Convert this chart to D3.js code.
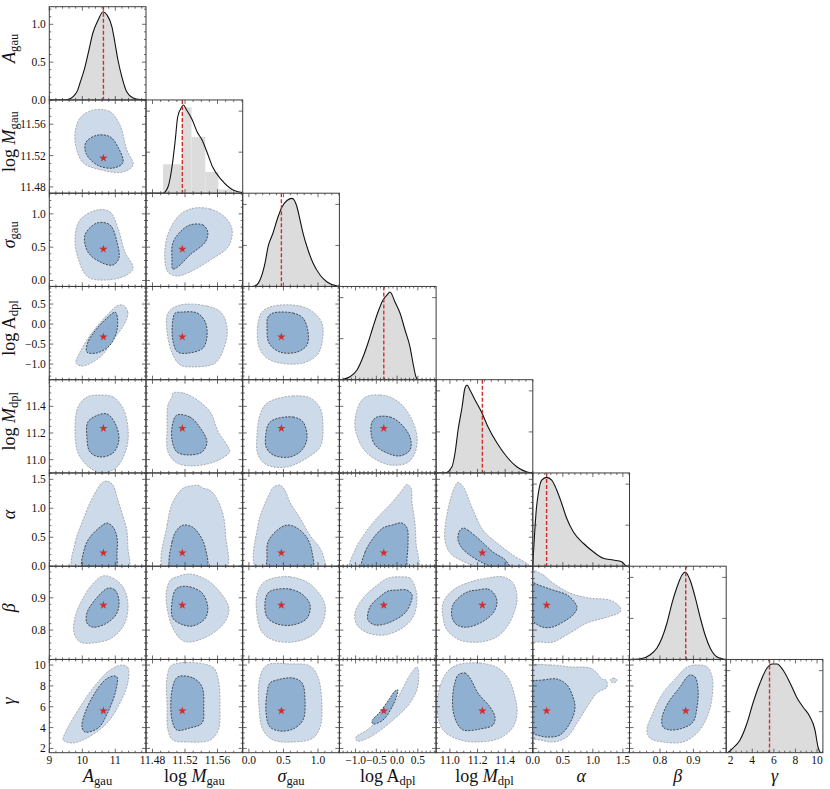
<!DOCTYPE html>
<html>
<head>
<meta charset="utf-8">
<script src="https://cdn.jsdelivr.net/npm/d3@7"></script>
<style>
  body { margin: 0; background: #fff; }
  svg { display: block; }
  svg text { font-family: "Liberation Serif", "DejaVu Serif", serif; fill: #111; }
</style>
</head>
<body>
<div id="chart"></div>
<script>
const width = 830, height = 789;
const gridLeft = 49.3, gridTop = 6.7, cellW = 96.7, cellH = 93.25;

// parameters, axis ranges, ticks, best fit
const params = ["A", "Mg", "sg", "Ad", "Md", "al", "be", "ga"];
const domains = [[9, 11.93], [11.472, 11.591], [-0.09, 1.31], [-1.39, 0.94], [10.9, 11.6], [0, 1.61], [0.709, 0.998], [1.59, 10.54]];
const majorTicks = [[9, 10, 11], [11.48, 11.52, 11.56], [0, 0.5, 1], [-1, -0.5, 0, 0.5], [11, 11.2, 11.4], [0, 0.5, 1, 1.5], [0.8, 0.9], [2, 4, 6, 8, 10]];
const minorSteps = [0.2, 0.01, 0.1, 0.1, 0.05, 0.1, 0.02, 0.5];
const tickFormats = ["d", ".2f", ".1f", ".1f", ".1f", ".1f", ".1f", "d"];
const bestFit = [10.64, 11.5167, 0.47, -0.32, 11.235, 0.23, 0.877, 5.6];
const axisLabels = [
  [["A", "i"], ["gau", "s"]],
  [["log ", "r"], ["M", "i"], ["gau", "s"]],
  [["σ", "i"], ["gau", "s"]],
  [["log A", "r"], ["dpl", "s"]],
  [["log ", "r"], ["M", "i"], ["dpl", "s"]],
  [["α", "i"]],
  [["β", "i"]],
  [["γ", "i"]]
];

// 1D marginals (first one in density units, the others scaled to panel height)
const A_grid = [9.0, 9.4, 9.6, 9.72, 9.85, 9.93, 10.08, 10.2, 10.32, 10.48, 10.63, 10.75, 10.9, 10.99, 11.08, 11.2, 11.35, 11.54, 11.75, 11.93];
const A_dens = [0, 0, 0.01, 0.043, 0.12, 0.224, 0.435, 0.66, 0.885, 1.057, 1.166, 1.123, 0.964, 0.753, 0.528, 0.303, 0.105, 0.026, 0.004, 0];
const Mg_grid = [11.472, 11.493, 11.499, 11.504, 11.508, 11.511, 11.516, 11.518, 11.522, 11.529, 11.535, 11.541, 11.547, 11.554, 11.565, 11.579, 11.591];
const Mg_dens = [0, 0, 0.066, 0.281, 0.57, 0.817, 0.924, 0.946, 0.892, 0.785, 0.656, 0.57, 0.442, 0.281, 0.142, 0.034, 0.005];
const Mg_histEdges = [11.493, 11.516, 11.528, 11.545, 11.561, 11.578];
const Mg_histHeights = [0.31, 0.92, 0.603, 0.227, 0.04];
const sg_grid = [-0.09, 0.05, 0.088, 0.16, 0.233, 0.276, 0.349, 0.421, 0.479, 0.551, 0.624, 0.696, 0.74, 0.783, 0.856, 0.928, 1.03, 1.131, 1.276, 1.31];
const sg_dens = [0, 0, 0.005, 0.069, 0.251, 0.423, 0.573, 0.745, 0.852, 0.922, 0.944, 0.852, 0.713, 0.573, 0.391, 0.251, 0.123, 0.048, 0.005, 0];
const Ad_grid = [-1.39, -1.3, -1.135, -0.966, -0.821, -0.701, -0.58, -0.46, -0.339, -0.243, -0.17, -0.05, 0.07, 0.191, 0.311, 0.383, 0.456, 0.504, 0.94];
const Ad_dens = [0, 0.005, 0.032, 0.104, 0.243, 0.394, 0.565, 0.726, 0.855, 0.908, 0.94, 0.833, 0.715, 0.533, 0.351, 0.179, 0.029, 0, 0];
const Md_grid = [10.9, 10.964, 11.015, 11.037, 11.059, 11.088, 11.109, 11.124, 11.145, 11.182, 11.232, 11.276, 11.341, 11.413, 11.486, 11.558, 11.6];
const Md_dens = [0, 0, 0.067, 0.214, 0.461, 0.707, 0.911, 0.943, 0.89, 0.782, 0.643, 0.493, 0.321, 0.171, 0.064, 0.01, 0];
const al_grid = [0, 0.03, 0.06, 0.092, 0.148, 0.231, 0.315, 0.398, 0.481, 0.564, 0.674, 0.841, 1.007, 1.174, 1.34, 1.48, 1.563, 1.61];
const al_dens = [0.02, 0.35, 0.62, 0.782, 0.924, 0.953, 0.924, 0.817, 0.673, 0.514, 0.37, 0.246, 0.155, 0.085, 0.066, 0.048, 0, 0];
const be_grid = [0.709, 0.74, 0.77, 0.791, 0.806, 0.821, 0.836, 0.851, 0.866, 0.875, 0.89, 0.905, 0.92, 0.935, 0.95, 0.971, 0.989, 0.998];
const be_dens = [0, 0.005, 0.048, 0.123, 0.23, 0.391, 0.605, 0.777, 0.906, 0.938, 0.852, 0.67, 0.455, 0.262, 0.123, 0.026, 0.005, 0];
const ga_grid = [1.59, 1.64, 2.22, 2.87, 3.52, 4.07, 4.72, 5.37, 5.83, 6.29, 6.85, 7.5, 8.15, 8.7, 9.35, 9.81, 10.09, 10.37, 10.54];
const ga_dens = [0, 0, 0.05, 0.136, 0.318, 0.533, 0.748, 0.908, 0.951, 0.951, 0.887, 0.748, 0.587, 0.49, 0.383, 0.243, 0.061, 0, 0];
const diagGrids = [A_grid, Mg_grid, sg_grid, Ad_grid, Md_grid, al_grid, be_grid, ga_grid];
const diagDens = [A_dens, Mg_dens, sg_dens, Ad_dens, Md_dens, al_dens, be_dens, ga_dens];
const diagTicks = [0.44, 0.88];

// 2D credible regions, [x, y] in data units (outer = 95%, inner = 68%)
const Mg_A_outer = [[10.32,11.578],[10.84,11.576],[11.14,11.559],[11.35,11.527],[11.54,11.508],[11.23,11.499],[10.54,11.502],[10.02,11.511],[9.81,11.531],[9.78,11.549],[9.93,11.568]];
const Mg_A_inner = [[10.45,11.546],[10.84,11.544],[11.08,11.531],[11.23,11.511],[10.93,11.504],[10.45,11.508],[10.11,11.523],[10.11,11.537]];
const sg_A_outer = [[10.45,1.058],[10.84,1.028],[11.08,0.788],[11.29,0.427],[11.54,0.187],[11.35,0.082],[10.75,0.007],[10.17,0.052],[9.87,0.337],[9.78,0.637],[9.93,0.908]];
const sg_A_inner = [[10.45,0.863],[10.84,0.833],[11.05,0.577],[11.11,0.337],[10.93,0.232],[10.54,0.277],[10.17,0.427],[10.08,0.683]];
const Ad_A_outer = [[11.23,0.476],[11.38,0.30],[11.29,0.026],[10.93,-0.399],[10.54,-0.824],[9.99,-1.05],[9.81,-0.97],[9.93,-0.70],[10.29,-0.22],[10.75,0.226],[11.05,0.45]];
const Ad_A_inner = [[10.99,0.30],[11.05,0.226],[11.05,-0.15],[10.84,-0.524],[10.45,-0.72],[10.14,-0.70],[10.17,-0.45],[10.48,-0.074],[10.78,0.176]];
const Md_A_outer = [[10.54,11.485],[10.93,11.47],[11.23,11.388],[11.38,11.245],[11.35,11.095],[11.05,10.945],[10.63,10.90],[10.23,10.938],[9.87,11.05],[9.78,11.223],[9.87,11.395],[10.14,11.47]];
const Md_A_inner = [[10.48,11.335],[10.75,11.343],[10.99,11.275],[11.11,11.148],[10.93,11.05],[10.54,11.02],[10.23,11.058],[10.14,11.17],[10.17,11.283]];
const al_A_outer = [[9.72,-0.07],[9.78,0.40],[10.02,0.797],[10.32,1.195],[10.60,1.44],[10.75,1.47],[10.93,1.40],[11.05,1.195],[11.20,0.92],[11.35,0.62],[11.38,0.33],[11.38,-0.07]];
const al_A_inner = [[10.02,-0.07],[10.08,0.33],[10.23,0.50],[10.54,0.676],[10.75,0.745],[10.93,0.676],[11.05,0.50],[11.05,0.225],[10.99,-0.07]];
const be_A_outer = [[10.63,0.968],[10.93,0.961],[11.23,0.934],[11.38,0.884],[11.29,0.822],[10.90,0.776],[10.32,0.760],[9.93,0.763],[9.75,0.791],[9.78,0.84],[9.99,0.893],[10.29,0.94]];
const be_A_inner = [[10.78,0.93],[10.99,0.924],[11.11,0.893],[11.05,0.853],[10.75,0.822],[10.32,0.809],[10.14,0.822],[10.14,0.853],[10.38,0.893]];
const ga_A_outer = [[11.20,10.01],[11.38,9.76],[11.38,8.3],[11.14,6.36],[10.75,4.44],[10.14,3.0],[9.69,2.52],[9.42,2.81],[9.48,3.48],[9.93,5.98],[10.45,8.28],[10.84,9.53]];
const ga_A_inner = [[10.93,8.95],[11.05,8.86],[11.02,7.61],[10.78,5.5],[10.48,3.96],[10.08,3.58],[9.99,4.06],[10.08,5.4],[10.38,7.32],[10.69,8.57]];
const sg_Mg_outer = [[11.532,1.088],[11.551,1.073],[11.569,0.953],[11.578,0.758],[11.573,0.502],[11.551,0.307],[11.526,0.127],[11.510,0.067],[11.499,0.127],[11.495,0.352],[11.498,0.653],[11.508,0.908],[11.518,1.028]];
const sg_Mg_inner = [[11.526,0.833],[11.542,0.833],[11.548,0.728],[11.545,0.577],[11.526,0.382],[11.511,0.202],[11.505,0.172],[11.504,0.307],[11.505,0.562],[11.514,0.728]];
const Ad_Mg_outer = [[11.514,0.476],[11.547,0.45],[11.565,0.276],[11.572,-0.15],[11.567,-0.65],[11.557,-0.976],[11.530,-1.07],[11.514,-1.02],[11.504,-0.72],[11.498,-0.20],[11.499,0.276]];
const Ad_Mg_inner = [[11.516,0.30],[11.535,0.276],[11.545,0.05],[11.547,-0.324],[11.542,-0.60],[11.526,-0.72],[11.511,-0.70],[11.505,-0.40],[11.505,0.10],[11.508,0.276]];
const Md_Mg_outer = [[11.505,11.50],[11.518,11.50],[11.535,11.448],[11.551,11.358],[11.561,11.208],[11.573,11.095],[11.575,11.058],[11.559,10.99],[11.530,10.953],[11.510,10.975],[11.499,11.058],[11.498,11.238],[11.499,11.41],[11.504,11.47]];
const Md_Mg_inner = [[11.510,11.335],[11.526,11.32],[11.538,11.245],[11.547,11.133],[11.541,11.058],[11.524,11.035],[11.510,11.058],[11.504,11.148],[11.505,11.275]];
const al_Mg_outer = [[11.494,-0.07],[11.498,0.71],[11.505,1.108],[11.518,1.35],[11.530,1.39],[11.536,1.40],[11.542,1.35],[11.551,1.31],[11.559,1.17],[11.567,0.88],[11.570,0.53],[11.570,-0.07]];
const al_Mg_inner = [[11.503,-0.07],[11.504,0.417],[11.510,0.625],[11.518,0.71],[11.529,0.676],[11.538,0.54],[11.545,0.314],[11.546,-0.07]];
const be_Mg_outer = [[11.510,0.965],[11.526,0.974],[11.547,0.955],[11.563,0.918],[11.574,0.868],[11.569,0.825],[11.551,0.785],[11.526,0.763],[11.516,0.769],[11.505,0.806],[11.498,0.868],[11.497,0.918],[11.502,0.955]];
const be_Mg_inner = [[11.514,0.934],[11.526,0.934],[11.541,0.915],[11.548,0.872],[11.545,0.837],[11.530,0.813],[11.518,0.816],[11.505,0.837],[11.504,0.887],[11.508,0.924]];
const ga_Mg_outer = [[11.504,10.01],[11.554,9.82],[11.561,8.57],[11.563,5.98],[11.561,3.77],[11.551,2.81],[11.522,2.62],[11.505,2.81],[11.499,3.77],[11.498,5.98],[11.498,8.86]];
const ga_Mg_inner = [[11.511,8.86],[11.530,8.76],[11.541,7.9],[11.543,5.98],[11.541,4.44],[11.526,3.96],[11.510,3.77],[11.504,4.73],[11.504,7.61]];
const Ad_sg_outer = [[0.349,0.45],[0.74,0.45],[0.928,0.30],[1.058,0.026],[1.058,-0.474],[0.986,-0.774],[0.783,-0.974],[0.45,-0.974],[0.262,-0.85],[0.146,-0.574],[0.132,0.026],[0.19,0.30]];
const Ad_sg_inner = [[0.349,0.276],[0.638,0.276],[0.783,0.15],[0.856,-0.20],[0.841,-0.524],[0.696,-0.70],[0.45,-0.70],[0.291,-0.474],[0.262,-0.074],[0.276,0.176]];
const Md_sg_outer = [[0.349,11.448],[0.638,11.478],[0.885,11.463],[1.03,11.388],[1.073,11.238],[1.03,11.095],[0.841,11.013],[0.552,10.945],[0.262,10.96],[0.132,11.035],[0.117,11.185],[0.16,11.335],[0.233,11.41]];
const Md_sg_inner = [[0.349,11.298],[0.638,11.32],[0.783,11.283],[0.841,11.163],[0.769,11.073],[0.595,11.02],[0.349,11.035],[0.248,11.095],[0.248,11.2],[0.276,11.26]];
const al_sg_outer = [[0.117,-0.07],[0.132,0.71],[0.204,1.0],[0.305,1.27],[0.349,1.36],[0.45,1.40],[0.522,1.31],[0.595,1.10],[0.74,0.83],[0.885,0.53],[1.03,0.31],[1.102,0.07],[1.116,-0.07]];
const al_sg_inner = [[0.276,-0.07],[0.262,0.15],[0.276,0.417],[0.407,0.62],[0.552,0.71],[0.696,0.66],[0.841,0.49],[0.913,0.246],[0.913,-0.07]];
const be_sg_outer = [[0.349,0.961],[0.595,0.965],[0.841,0.949],[1.0,0.918],[1.102,0.878],[1.073,0.825],[0.928,0.785],[0.638,0.763],[0.349,0.769],[0.19,0.794],[0.117,0.847],[0.117,0.909],[0.204,0.946]];
const be_sg_inner = [[0.349,0.924],[0.595,0.927],[0.783,0.909],[0.885,0.878],[0.841,0.837],[0.638,0.816],[0.407,0.819],[0.262,0.84],[0.233,0.887],[0.276,0.915]];
const ga_sg_outer = [[0.262,10.01],[0.595,10.11],[0.885,9.92],[1.0,8.86],[1.058,5.98],[1.03,4.06],[0.928,3.0],[0.638,2.62],[0.349,2.81],[0.204,3.77],[0.146,5.98],[0.16,8.86]];
const ga_sg_inner = [[0.407,8.57],[0.638,8.76],[0.769,8.28],[0.812,6.65],[0.783,4.73],[0.638,3.86],[0.45,3.67],[0.305,4.06],[0.248,5.4],[0.262,7.32],[0.305,8.28]];
const Md_Ad_outer = [[-0.701,11.478],[-0.412,11.485],[-0.17,11.47],[0.119,11.41],[0.36,11.298],[0.48,11.17],[0.431,11.05],[0.239,10.975],[-0.17,10.96],[-0.58,11.013],[-0.845,11.095],[-1.014,11.245],[-0.966,11.373],[-0.845,11.448]];
const Md_Ad_inner = [[-0.484,11.32],[-0.17,11.32],[0.07,11.275],[0.311,11.17],[0.311,11.073],[0.07,11.028],[-0.243,11.05],[-0.532,11.11],[-0.628,11.2],[-0.604,11.283]];
const al_Ad_outer = [[-1.135,-0.07],[-1.014,0.28],[-0.773,0.57],[-0.46,0.85],[-0.122,1.10],[0.119,1.31],[0.239,1.41],[0.335,1.35],[0.36,1.09],[0.431,0.74],[0.456,0.40],[0.48,-0.07]];
const al_Ad_inner = [[-0.845,-0.07],[-0.773,0.24],[-0.58,0.48],[-0.339,0.66],[-0.122,0.71],[0.119,0.745],[0.239,0.66],[0.263,0.40],[0.239,0.14],[0.191,-0.07]];
const be_Ad_outer = [[0.119,0.965],[0.311,0.961],[0.431,0.934],[0.48,0.893],[0.383,0.840],[0.119,0.806],[-0.29,0.785],[-0.701,0.791],[-0.966,0.816],[-1.014,0.853],[-0.821,0.899],[-0.532,0.934],[-0.218,0.961]];
const be_Ad_inner = [[-0.002,0.924],[0.239,0.924],[0.36,0.909],[0.335,0.887],[0.191,0.853],[-0.218,0.822],[-0.532,0.816],[-0.701,0.831],[-0.653,0.872],[-0.363,0.909],[-0.218,0.921]];
const ga_Ad_outer = [[-0.966,2.71],[-0.653,3.09],[-0.098,4.73],[0.311,6.36],[0.504,8.03],[0.48,9.82],[0.311,9.05],[-0.098,6.17],[-0.725,3.77],[-0.99,3.09]];
const ga_Ad_inner = [[-0.58,4.35],[-0.339,4.73],[-0.098,6.17],[0.022,7.61],[-0.05,7.52],[-0.17,6.84],[-0.412,5.5],[-0.604,4.63]];
const al_Md_outer = [[11.059,1.45],[11.102,1.35],[11.138,1.14],[11.175,0.93],[11.24,0.62],[11.341,0.40],[11.457,0.19],[11.58,0.0],[11.58,-0.07],[11.399,-0.07],[11.218,-0.02],[11.088,0.09],[11.001,0.23],[10.964,0.45],[10.972,0.80],[11.008,1.19],[11.037,1.38]];
const al_Md_inner = [[11.095,0.66],[11.131,0.62],[11.218,0.45],[11.312,0.245],[11.399,0.11],[11.435,-0.03],[11.341,-0.03],[11.24,0.055],[11.145,0.19],[11.088,0.31],[11.059,0.45],[11.066,0.59]];
const be_Md_outer = [[11.268,0.961],[11.384,0.965],[11.457,0.946],[11.486,0.903],[11.471,0.862],[11.413,0.81],[11.341,0.779],[11.218,0.763],[11.073,0.769],[10.979,0.8],[10.95,0.84],[10.95,0.884],[11.022,0.924],[11.145,0.949]];
const be_Md_inner = [[11.196,0.924],[11.276,0.927],[11.326,0.909],[11.341,0.884],[11.312,0.853],[11.232,0.825],[11.124,0.809],[11.051,0.816],[11.015,0.84],[11.022,0.878],[11.088,0.909],[11.145,0.921]];
const ga_Md_outer = [[11.051,10.01],[11.218,10.2],[11.348,9.72],[11.421,8.76],[11.471,6.94],[11.486,5.4],[11.457,4.06],[11.363,3.0],[11.196,2.62],[11.051,2.91],[10.95,3.77],[10.907,5.69],[10.928,7.9],[10.979,9.34]];
const ga_Md_inner = [[11.059,9.05],[11.109,9.24],[11.145,8.76],[11.203,7.32],[11.29,5.98],[11.326,5.02],[11.312,4.25],[11.218,3.86],[11.095,3.77],[11.051,4.44],[11.022,5.69],[11.022,7.32],[11.037,8.36]];
const be_al_outer = [[-0.07,0.986],[0.17,0.971],[0.336,0.946],[0.619,0.915],[0.952,0.899],[1.285,0.893],[1.452,0.871],[1.452,0.856],[1.235,0.84],[0.902,0.822],[0.619,0.791],[0.336,0.763],[0.12,0.763],[-0.07,0.769],[-0.07,0.87]];
const be_al_inner = [[-0.07,0.949],[0.12,0.938],[0.336,0.924],[0.569,0.909],[0.703,0.884],[0.736,0.868],[0.669,0.847],[0.503,0.825],[0.32,0.809],[0.17,0.809],[0.037,0.822],[-0.07,0.85]];
const ga_al_outer = [[-0.07,9.82],[0.286,10.01],[0.619,9.82],[0.952,9.72],[1.069,9.24],[1.152,8.66],[1.219,8.57],[1.235,7.9],[1.069,7.32],[0.902,5.98],[0.736,4.44],[0.569,3.1],[0.336,2.62],[0.12,2.81],[-0.07,3.1],[-0.07,6.5]];
const ga_al_island = [[1.29,8.6],[1.34,8.75],[1.40,8.6],[1.38,8.35],[1.31,8.35]];
const ga_al_inner = [[-0.07,8.28],[0.17,8.57],[0.403,8.66],[0.569,8.09],[0.669,6.94],[0.703,5.88],[0.619,4.44],[0.453,3.29],[0.236,3.09],[0.07,3.29],[-0.07,3.62],[-0.07,6.0]];
const ga_be_outer = [[0.911,10.01],[0.941,9.82],[0.956,8.86],[0.956,6.94],[0.941,5.02],[0.911,3.48],[0.869,2.62],[0.809,2.62],[0.770,3.0],[0.761,3.77],[0.779,5.4],[0.809,7.32],[0.851,8.86],[0.881,9.82]];
const ga_be_inner = [[0.890,9.05],[0.905,8.86],[0.914,7.61],[0.911,6.0],[0.899,4.54],[0.869,3.96],[0.830,3.77],[0.809,4.06],[0.806,4.92],[0.824,6.36],[0.860,7.9],[0.881,8.86]];

// [row, col, outer regions, inner regions]
const contourPanels = [
  [1, 0, [Mg_A_outer], [Mg_A_inner]],
  [2, 0, [sg_A_outer], [sg_A_inner]],
  [3, 0, [Ad_A_outer], [Ad_A_inner]],
  [4, 0, [Md_A_outer], [Md_A_inner]],
  [5, 0, [al_A_outer], [al_A_inner]],
  [6, 0, [be_A_outer], [be_A_inner]],
  [7, 0, [ga_A_outer], [ga_A_inner]],
  [2, 1, [sg_Mg_outer], [sg_Mg_inner]],
  [3, 1, [Ad_Mg_outer], [Ad_Mg_inner]],
  [4, 1, [Md_Mg_outer], [Md_Mg_inner]],
  [5, 1, [al_Mg_outer], [al_Mg_inner]],
  [6, 1, [be_Mg_outer], [be_Mg_inner]],
  [7, 1, [ga_Mg_outer], [ga_Mg_inner]],
  [3, 2, [Ad_sg_outer], [Ad_sg_inner]],
  [4, 2, [Md_sg_outer], [Md_sg_inner]],
  [5, 2, [al_sg_outer], [al_sg_inner]],
  [6, 2, [be_sg_outer], [be_sg_inner]],
  [7, 2, [ga_sg_outer], [ga_sg_inner]],
  [4, 3, [Md_Ad_outer], [Md_Ad_inner]],
  [5, 3, [al_Ad_outer], [al_Ad_inner]],
  [6, 3, [be_Ad_outer], [be_Ad_inner]],
  [7, 3, [ga_Ad_outer], [ga_Ad_inner]],
  [5, 4, [al_Md_outer], [al_Md_inner]],
  [6, 4, [be_Md_outer], [be_Md_inner]],
  [7, 4, [ga_Md_outer], [ga_Md_inner]],
  [6, 5, [be_al_outer], [be_al_inner]],
  [7, 5, [ga_al_outer, ga_al_island], [ga_al_inner]],
  [7, 6, [ga_be_outer], [ga_be_inner]]
];

const frameColor = "#3c3c3c";
const outerFill = "#cddaea", innerFill = "#8fb0d1";
const outerEdge = "#9a9a9a", innerEdge = "#2a2a2a";
const redColor = "#d12d2d", histColor = "#dcdcdc";
const tickFont = 11.5, labelSize = 18;

const svg = d3.select("#chart")
  .append("svg")
  .attr("xmlns", "http://www.w3.org/2000/svg")
  .attr("width", width)
  .attr("height", height)
  .attr("viewBox", `0 0 ${width} ${height}`);

svg.append("rect").attr("width", width).attr("height", height).attr("fill", "#fff");
svg.append("defs").append("clipPath").attr("id", "cell")
  .append("rect").attr("width", cellW).attr("height", cellH);

const xScales = domains.map(d => d3.scaleLinear().domain(d).range([0, cellW]));
const yScales = domains.map(d => d3.scaleLinear().domain(d).range([cellH, 0]));

function minorTicks(dom, step, majors) {
  const out = [];
  for (let k = Math.ceil(dom[0] / step - 1e-6); k * step <= dom[1] + 1e-9; k++) {
    const v = +(k * step).toFixed(6);
    if (!majors.some(m => Math.abs(m - v) < step * 1e-3)) out.push(v);
  }
  return out;
}

function drawTicks(g, xs, ys, xMaj, xMin, yMaj, yMin) {
  const t = g.append("g").attr("stroke", frameColor).attr("stroke-width", 0.75);
  const seg = (x1, y1, x2, y2) => t.append("line")
    .attr("x1", x1).attr("y1", y1).attr("x2", x2).attr("y2", y2);
  const inX = v => xs(v) >= -0.1 && xs(v) <= cellW + 0.1;
  const inY = v => ys(v) >= -0.1 && ys(v) <= cellH + 0.1;
  xMaj.filter(inX).forEach(v => { const x = xs(v); seg(x, cellH, x, cellH - 4); seg(x, 0, x, 4); });
  xMin.filter(inX).forEach(v => { const x = xs(v); seg(x, cellH, x, cellH - 2); seg(x, 0, x, 2); });
  yMaj.filter(inY).forEach(v => { const y = ys(v); seg(0, y, 4, y); seg(cellW, y, cellW - 4, y); });
  yMin.filter(inY).forEach(v => { const y = ys(v); seg(0, y, 2, y); seg(cellW, y, cellW - 2, y); });
}

function writeLabel(text, parts, size) {
  parts.forEach(([s, kind]) => {
    const ts = text.append("tspan").text(s);
    if (kind === "i") ts.style("font-style", "italic");
    if (kind === "s") ts.style("font-size", (size * 0.7) + "px").attr("dy", size * 0.14);
  });
}

const minors = domains.map((d, k) => minorTicks(d, minorSteps[k], majorTicks[k]));

// diagonal panels
for (let i = 0; i < 8; i++) {
  const g = svg.append("g").attr("transform", `translate(${gridLeft + i * cellW},${gridTop + i * cellH})`);
  const inner = g.append("g").attr("clip-path", "url(#cell)");
  const xs = xScales[i];
  const ys = d3.scaleLinear().domain(i === 0 ? [0, cellH / 75.65] : [0, 1]).range([cellH, 0]);
  const pts = diagGrids[i].map((v, k) => [v, diagDens[i][k]]);

  if (i === 1) {
    inner.selectAll("rect.hist")
      .data(Mg_histHeights)
      .join("rect")
      .attr("x", (h, k) => xs(Mg_histEdges[k]))
      .attr("width", (h, k) => xs(Mg_histEdges[k + 1]) - xs(Mg_histEdges[k]))
      .attr("y", h => ys(h))
      .attr("height", h => cellH - ys(h))
      .attr("fill", histColor);
  } else {
    inner.append("path")
      .datum(pts)
      .attr("fill", histColor)
      .attr("d", d3.area().x(d => xs(d[0])).y0(cellH).y1(d => ys(d[1])).curve(d3.curveMonotoneX));
  }
  inner.append("path")
    .datum(pts)
    .attr("fill", "none")
    .attr("stroke", "#111")
    .attr("stroke-width", 1.1)
    .attr("d", d3.line().x(d => xs(d[0])).y(d => ys(d[1])).curve(d3.curveMonotoneX));
  inner.append("line")
    .attr("x1", xs(bestFit[i])).attr("x2", xs(bestFit[i]))
    .attr("y1", 0).attr("y2", cellH)
    .attr("stroke", redColor).attr("stroke-width", 1.4)
    .attr("stroke-dasharray", "4,2");

  const yMaj = i === 0 ? [0, 0.5, 1] : diagTicks;
  const yMin = i === 0 ? minorTicks(ys.domain(), 0.1, [0, 0.5, 1]) : [];
  drawTicks(g, xs, ys, majorTicks[i], minors[i], yMaj, yMin);
  g.append("rect").attr("width", cellW).attr("height", cellH)
    .attr("fill", "none").attr("stroke", frameColor).attr("stroke-width", 1);

  if (i === 0) {
    yMaj.forEach(v => {
      g.append("text")
        .attr("x", -3.5).attr("y", ys(v)).attr("dy", "0.35em")
        .attr("text-anchor", "end")
        .style("font-size", tickFont + "px")
        .text(d3.format(".1f")(v));
    });
  }
}

// off-diagonal panels
const contourLine = (xs, ys) => d3.line()
  .x(d => xs(d[0])).y(d => ys(d[1]))
  .curve(d3.curveCatmullRomClosed.alpha(0.5));

contourPanels.forEach(([i, j, outers, inners]) => {
  const g = svg.append("g").attr("transform", `translate(${gridLeft + j * cellW},${gridTop + i * cellH})`);
  const inner = g.append("g").attr("clip-path", "url(#cell)");
  const xs = xScales[j], ys = yScales[i];
  const line = contourLine(xs, ys);

  inner.selectAll("path.outer")
    .data(outers)
    .join("path")
    .attr("class", "outer")
    .attr("d", line)
    .attr("fill", outerFill)
    .attr("stroke", outerEdge)
    .attr("stroke-width", 0.8)
    .attr("stroke-dasharray", "2,1.3");
  inner.selectAll("path.inner")
    .data(inners)
    .join("path")
    .attr("class", "inner")
    .attr("d", line)
    .attr("fill", innerFill)
    .attr("stroke", innerEdge)
    .attr("stroke-width", 0.8)
    .attr("stroke-dasharray", "2,1.3");
  inner.append("path")
    .attr("d", d3.symbol(d3.symbolStar, 22)())
    .attr("transform", `translate(${xs(bestFit[j])},${ys(bestFit[i])})`)
    .attr("fill", redColor);

  drawTicks(g, xs, ys, majorTicks[j], minors[j], majorTicks[i], minors[i]);
  g.append("rect").attr("width", cellW).attr("height", cellH)
    .attr("fill", "none").attr("stroke", frameColor).attr("stroke-width", 1);

  if (j === 0) {
    majorTicks[i].filter(v => ys(v) >= -0.1 && ys(v) <= cellH + 0.1).forEach(v => {
      g.append("text")
        .attr("x", -3.5).attr("y", ys(v)).attr("dy", "0.35em")
        .attr("text-anchor", "end")
        .style("font-size", tickFont + "px")
        .text(d3.format(tickFormats[i])(v));
    });
  }
});

// bottom tick labels
for (let j = 0; j < 8; j++) {
  const xs = xScales[j];
  majorTicks[j].forEach(v => {
    svg.append("text")
      .attr("x", gridLeft + j * cellW + xs(v))
      .attr("y", gridTop + 8 * cellH + 11.5)
      .attr("text-anchor", "middle")
      .style("font-size", tickFont + "px")
      .text(d3.format(tickFormats[j])(v));
  });
}

// axis labels
for (let k = 0; k < 8; k++) {
  const bx = svg.append("text")
    .attr("x", gridLeft + (k + 0.5) * cellW)
    .attr("y", 782)
    .attr("text-anchor", "middle")
    .style("font-size", labelSize + "px");
  writeLabel(bx, axisLabels[k], labelSize);

  const ly = svg.append("text")
    .attr("transform", `translate(15,${gridTop + (k + 0.5) * cellH - 5}) rotate(-90)`)
    .attr("text-anchor", "middle")
    .style("font-size", labelSize + "px");
  writeLabel(ly, axisLabels[k], labelSize);
}
</script>
</body>
</html>
